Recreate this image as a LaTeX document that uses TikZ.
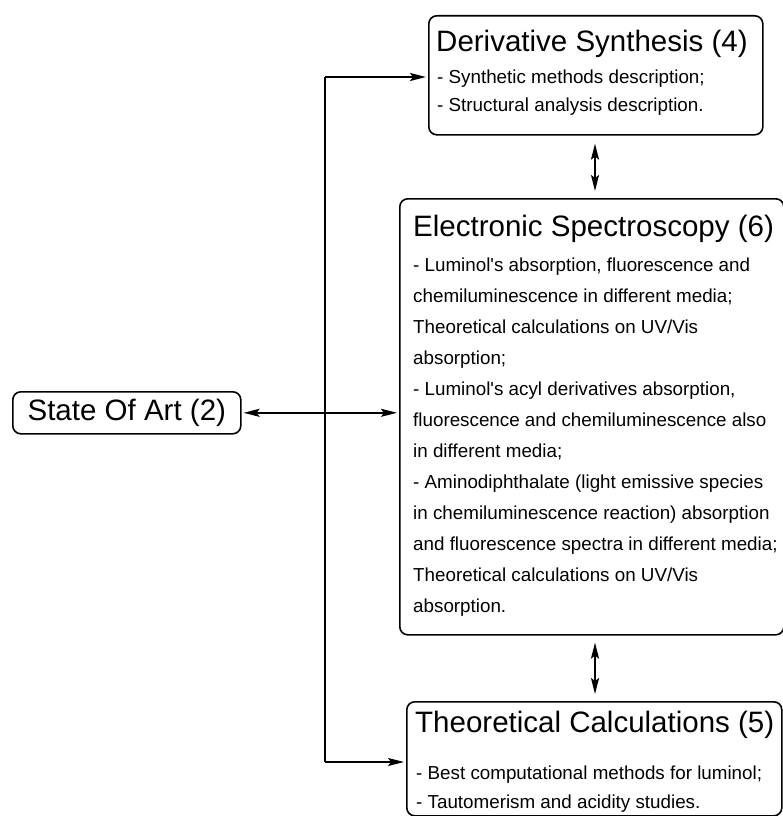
\documentclass[tikz,border=0pt]{standalone}
\usepackage{fontspec}
\setmainfont{Liberation Sans}
\usetikzlibrary{arrows.meta}
\begin{document}
\begin{tikzpicture}[x=1pt,y=-1pt,
  box/.style={draw, line width=1.6pt, rounded corners=8pt, inner sep=0pt, anchor=north west},
  ttl/.style={anchor=base west, inner sep=0pt, font=\fontsize{29.5}{30}\selectfont},
  bdy/.style={anchor=base west, inner sep=0pt, font=\fontsize{18.8}{19}\selectfont},
  conn/.style={line width=1.9pt},
  tip/.style={},
  arr/.style={conn, -{Stealth[length=16pt,width=8pt,inset=3pt]}},
  darr/.style={conn, {Stealth[length=16pt,width=8pt,inset=3pt]}-{Stealth[length=16pt,width=8pt,inset=3pt]}}]
\useasboundingbox (0,0) rectangle (783,816);

% State of art
\node[box, minimum width=228pt, minimum height=42pt] (sa) at (12,391) {};
\node[inner sep=0pt, font=\fontsize{29.5}{30}\selectfont] (sat) at (sa.center) {State Of Art (2)};

% Derivative synthesis
\node[box, minimum width=334pt, minimum height=119pt] (ds) at (428,15) {};
\node[ttl] (dst) at (436,52) {Derivative Synthesis (4)};
\node[bdy] (ds1) at (437,83) {- Synthetic methods description;};
\node[bdy] (ds2) at (437,111) {- Structural analysis description.};

% Electronic spectroscopy
\node[box, minimum width=384pt, minimum height=436pt] (es) at (399,198) {};
\node[ttl] (est) at (413,236) {Electronic Spectroscopy (6)};
\node[bdy] (es1) at (413,271) {- Luminol\textquotesingle s absorption, fluorescence and};
\node[bdy] (es2) at (413,302) {chemiluminescence in different media;};
\node[bdy] (es3) at (413,333) {Theoretical calculations on UV/Vis};
\node[bdy] (es4) at (413,364) {absorption;};
\node[bdy] (es5) at (413,395) {- Luminol\textquotesingle s acyl derivatives absorption,};
\node[bdy] (es6) at (413,426) {fluorescence and chemiluminescence also};
\node[bdy] (es7) at (413,457) {in different media;};
\node[bdy] (es8) at (413,488) {- Aminodiphthalate (light emissive species};
\node[bdy] (es9) at (413,519) {in chemiluminescence reaction) absorption};
\node[bdy] (es10) at (413,550) {and fluorescence spectra in different media;};
\node[bdy] (es11) at (413,581) {Theoretical calculations on UV/Vis};
\node[bdy] (es12) at (413,612) {absorption.};

% Theoretical calculations
\node[box, minimum width=375pt, minimum height=114pt] (tc) at (406,701) {};
\node[ttl] (tct) at (415,732) {Theoretical Calculations (5)};
\node[bdy] (tc1) at (416,779) {- Best computational methods for luminol;};
\node[bdy] (tc2) at (416,808) {- Tautomerism and acidity studies.};

% connectors
\coordinate (jt) at (325,77);
\coordinate (jb) at (325,762);
\coordinate (vx) at (595,0);
\draw[conn] (jt) -- (jb);
\draw[arr, shorten >=2pt] (jt) -- (ds.west |- jt);
\draw[arr, shorten >=2pt] (jb) -- (tc.west |- jb);
\draw[darr, shorten <=2pt, shorten >=2pt] (sa.east) -- (es.west |- sa.east);
\draw[darr, shorten <=8pt, shorten >=7pt] (ds.south -| vx) -- (es.north -| vx);
\draw[darr, shorten <=7pt, shorten >=7pt] (es.south -| vx) -- (tc.north -| vx);
\end{tikzpicture}
\end{document}
